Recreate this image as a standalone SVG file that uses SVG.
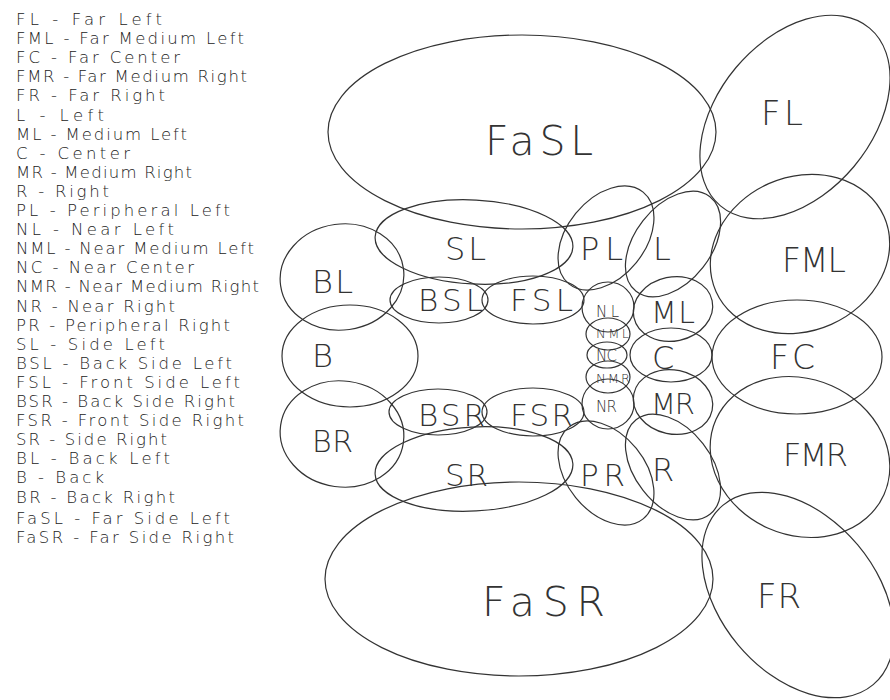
<svg xmlns="http://www.w3.org/2000/svg" width="890" height="700" viewBox="0 0 890 700">
<style>
.e{fill:none;stroke:#333;stroke-width:1.2}
.lbl{font-family:"DejaVu Sans","Liberation Sans",sans-serif;font-weight:200;fill:#333}
.lg{font-family:"DejaVu Sans","Liberation Sans",sans-serif;font-weight:200;font-size:16.5px;fill:#222}
</style>
<rect width="890" height="700" fill="#fff"/>
<g id="legend" class="lg">
<text x="16" y="25" textLength="146" lengthAdjust="spacing">FL - Far Left</text>
<text x="16" y="44.1" textLength="228" lengthAdjust="spacing">FML - Far Medium Left</text>
<text x="16" y="63.2" textLength="164" lengthAdjust="spacing">FC - Far Center</text>
<text x="16" y="82.3" textLength="231" lengthAdjust="spacing">FMR - Far Medium Right</text>
<text x="16" y="101.4" textLength="149" lengthAdjust="spacing">FR - Far Right</text>
<text x="16" y="120.5" textLength="88" lengthAdjust="spacing">L - Left</text>
<text x="16" y="139.6" textLength="171" lengthAdjust="spacing">ML - Medium Left</text>
<text x="16" y="158.7" textLength="114" lengthAdjust="spacing">C - Center</text>
<text x="16" y="177.8" textLength="176" lengthAdjust="spacing">MR - Medium Right</text>
<text x="16" y="196.9" textLength="93" lengthAdjust="spacing">R - Right</text>
<text x="16" y="216" textLength="214" lengthAdjust="spacing">PL - Peripheral Left</text>
<text x="16" y="235.1" textLength="158" lengthAdjust="spacing">NL - Near Left</text>
<text x="16" y="254.2" textLength="238" lengthAdjust="spacing">NML - Near Medium Left</text>
<text x="16" y="273.3" textLength="178" lengthAdjust="spacing">NC - Near Center</text>
<text x="16" y="292.4" textLength="243" lengthAdjust="spacing">NMR - Near Medium Right</text>
<text x="16" y="311.5" textLength="159" lengthAdjust="spacing">NR - Near Right</text>
<text x="16" y="330.6" textLength="214" lengthAdjust="spacing">PR - Peripheral Right</text>
<text x="16" y="349.7" textLength="149" lengthAdjust="spacing">SL - Side Left</text>
<text x="16" y="368.8" textLength="216" lengthAdjust="spacing">BSL - Back Side Left</text>
<text x="16" y="387.9" textLength="224" lengthAdjust="spacing">FSL - Front Side Left</text>
<text x="16" y="407" textLength="219" lengthAdjust="spacing">BSR - Back Side Right</text>
<text x="16" y="426.1" textLength="228" lengthAdjust="spacing">FSR - Front Side Right</text>
<text x="16" y="445.2" textLength="151" lengthAdjust="spacing">SR - Side Right</text>
<text x="16" y="464.3" textLength="154" lengthAdjust="spacing">BL - Back Left</text>
<text x="16" y="483.4" textLength="88" lengthAdjust="spacing">B - Back</text>
<text x="16" y="502.5" textLength="159" lengthAdjust="spacing">BR - Back Right</text>
<text x="16" y="524" textLength="214" lengthAdjust="spacing">FaSL - Far Side Left</text>
<text x="16" y="543" textLength="218" lengthAdjust="spacing">FaSR - Far Side Right</text>
</g>
<g id="connectors"></g>
<g id="FaSL"><ellipse class="e" cx="522" cy="132" rx="194" ry="97"/><text class="lbl" x="485" y="155" font-size="41" textLength="108" lengthAdjust="spacing">FaSL</text></g>
<g id="FaSR"><ellipse class="e" cx="519" cy="579" rx="194" ry="97"/><text class="lbl" x="482" y="616" font-size="41" textLength="123" lengthAdjust="spacing">FaSR</text></g>
<g id="FL"><ellipse class="e" cx="0" cy="0" rx="116" ry="77" transform="translate(795,117) rotate(-50)"/><text class="lbl" x="761" y="125" font-size="34" textLength="42" lengthAdjust="spacing">FL</text></g>
<g id="FR"><ellipse class="e" cx="0" cy="0" rx="117" ry="78" transform="translate(798,595) rotate(50)"/><text class="lbl" x="757" y="608" font-size="34" textLength="44" lengthAdjust="spacing">FR</text></g>
<g id="FML"><ellipse class="e" cx="0" cy="0" rx="92" ry="77" transform="translate(800,254) rotate(-24)"/><text class="lbl" x="782" y="272" font-size="33" textLength="64" lengthAdjust="spacing">FML</text></g>
<g id="FC"><ellipse class="e" cx="797" cy="357" rx="85" ry="57"/><text class="lbl" x="770" y="369" font-size="33" textLength="45" lengthAdjust="spacing">FC</text></g>
<g id="FMR"><ellipse class="e" cx="0" cy="0" rx="92" ry="78" transform="translate(800,457) rotate(24)"/><text class="lbl" x="783" y="466" font-size="32" textLength="65" lengthAdjust="spacing">FMR</text></g>
<g id="BL"><ellipse class="e" cx="0" cy="0" rx="62" ry="53" transform="translate(342,277) rotate(-8)"/><text class="lbl" x="312" y="293" font-size="32" textLength="41" lengthAdjust="spacing">BL</text></g>
<g id="B"><ellipse class="e" cx="350" cy="356" rx="68" ry="51"/><text class="lbl" x="312" y="367" font-size="32">B</text></g>
<g id="BR"><ellipse class="e" cx="0" cy="0" rx="62" ry="53" transform="translate(342,434) rotate(8)"/><text class="lbl" x="312" y="452" font-size="30" textLength="41" lengthAdjust="spacing">BR</text></g>
<g id="SL"><ellipse class="e" cx="0" cy="0" rx="99" ry="42" transform="translate(474,242) rotate(3)"/><text class="lbl" x="445" y="260" font-size="32" textLength="41" lengthAdjust="spacing">SL</text></g>
<g id="SR"><ellipse class="e" cx="0" cy="0" rx="99" ry="42" transform="translate(474,469) rotate(-3)"/><text class="lbl" x="445" y="486" font-size="31" textLength="43" lengthAdjust="spacing">SR</text></g>
<g id="BSL"><ellipse class="e" cx="439" cy="300" rx="49" ry="23"/><text class="lbl" x="418" y="311" font-size="31" textLength="65" lengthAdjust="spacing">BSL</text></g>
<g id="FSL"><ellipse class="e" cx="533" cy="300" rx="51" ry="24"/><text class="lbl" x="510" y="311" font-size="31" textLength="63" lengthAdjust="spacing">FSL</text></g>
<g id="BSR"><ellipse class="e" cx="438" cy="412" rx="49" ry="23"/><text class="lbl" x="418" y="426" font-size="31" textLength="67" lengthAdjust="spacing">BSR</text></g>
<g id="FSR"><ellipse class="e" cx="533" cy="412" rx="51" ry="24"/><text class="lbl" x="510" y="426" font-size="31" textLength="63" lengthAdjust="spacing">FSR</text></g>
<g id="PL"><ellipse class="e" cx="0" cy="0" rx="59" ry="39" transform="translate(606,238) rotate(-51)"/><text class="lbl" x="580" y="260" font-size="32" textLength="43" lengthAdjust="spacing">PL</text></g>
<g id="PR"><ellipse class="e" cx="0" cy="0" rx="59" ry="39" transform="translate(606,473) rotate(51)"/><text class="lbl" x="580" y="486" font-size="31" textLength="45" lengthAdjust="spacing">PR</text></g>
<g id="L"><ellipse class="e" cx="0" cy="0" rx="60" ry="38" transform="translate(673,244) rotate(-52)"/><text class="lbl" x="653" y="260" font-size="32">L</text></g>
<g id="R"><ellipse class="e" cx="0" cy="0" rx="60" ry="38" transform="translate(673,467) rotate(52)"/><text class="lbl" x="652" y="481" font-size="32">R</text></g>
<g id="ML"><ellipse class="e" cx="0" cy="0" rx="40" ry="32" transform="translate(673,309) rotate(-12)"/><text class="lbl" x="651" y="323" font-size="30" textLength="44" lengthAdjust="spacing">ML</text></g>
<g id="C"><ellipse class="e" cx="671" cy="355" rx="41" ry="27"/><text class="lbl" x="652" y="369" font-size="32">C</text></g>
<g id="MR"><ellipse class="e" cx="0" cy="0" rx="40" ry="32" transform="translate(673,402) rotate(12)"/><text class="lbl" x="651" y="414" font-size="29" textLength="44" lengthAdjust="spacing">MR</text></g>
<g id="NL"><ellipse class="e" cx="608" cy="307" rx="26" ry="25"/><text class="lbl" x="596" y="317" font-size="15" textLength="23" lengthAdjust="spacing">NL</text></g>
<g id="NML"><ellipse class="e" cx="608" cy="334" rx="22" ry="16"/><text class="lbl" x="596" y="338" font-size="13" textLength="33" lengthAdjust="spacing">NML</text></g>
<g id="NC"><ellipse class="e" cx="607" cy="355" rx="20" ry="13"/><text class="lbl" x="596" y="361" font-size="15" textLength="21" lengthAdjust="spacing">NC</text></g>
<g id="NMR"><ellipse class="e" cx="608" cy="377" rx="22" ry="16"/><text class="lbl" x="596" y="383" font-size="13" textLength="34" lengthAdjust="spacing">NMR</text></g>
<g id="NR"><ellipse class="e" cx="608" cy="404" rx="26" ry="25"/><text class="lbl" x="596" y="412" font-size="15" textLength="21" lengthAdjust="spacing">NR</text></g>
</svg>
